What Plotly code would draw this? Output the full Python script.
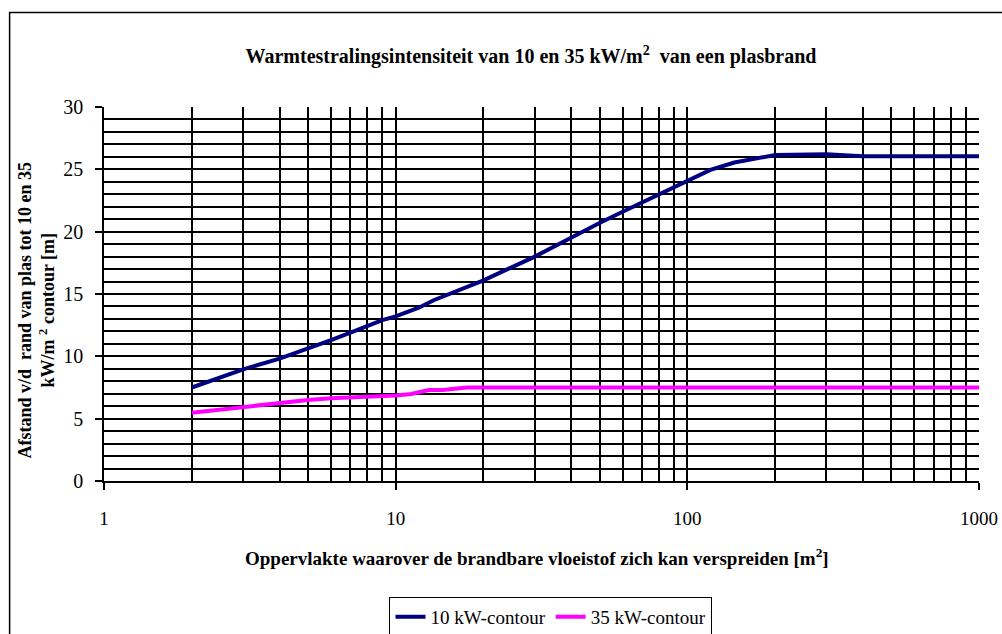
import plotly.graph_objects as go

# 10 kW/m2 contour
area_10 = [2, 3, 4, 5, 6, 7, 8, 9, 10, 12, 13.5, 15, 20, 30, 40, 50, 60, 70, 80, 90, 100, 120, 145, 200, 300, 400, 1000]
dist_10 = [7.5, 8.96, 9.82, 10.6, 11.3, 11.9, 12.45, 12.9, 13.2, 13.9, 14.5, 14.95, 16.1, 18.0, 19.55, 20.7, 21.6, 22.35, 23.0, 23.6, 24.15, 24.95, 25.55, 26.15, 26.2, 26.05, 26.05]

# 35 kW/m2 contour
area_35 = [2, 3, 4, 5, 6, 7, 8, 9, 10, 11.3, 13, 14.5, 17.5, 1000]
dist_35 = [5.48, 5.96, 6.24, 6.5, 6.63, 6.69, 6.69, 6.77, 6.85, 6.98, 7.3, 7.3, 7.5, 7.5]

series_names = ["10 kW-contour", "35 kW-contour"]
x_tick_vals = [1, 10, 100, 1000]
x_tick_text = ["1", "10", "100", "1000"]

SERIF = "Liberation Serif, Times New Roman, serif"

fig = go.Figure()
fig.add_trace(go.Scatter(x=area_10, y=dist_10, mode="lines", name=series_names[0],
                         line=dict(color="#000080", width=4)))
fig.add_trace(go.Scatter(x=area_35, y=dist_35, mode="lines", name=series_names[1],
                         line=dict(color="#FF00FF", width=4)))

W, H = 1002, 634
L, R, T, B = 103.5, 979.5, 107.3, 481.0
pw, ph = R - L, B - T

def px(x):
    return (x - L) / pw

def py(y):
    return (B - y) / ph

GRID_W = 1.5

fig.update_layout(
    width=W, height=H,
    margin=dict(l=L, r=W - R, t=T, b=H - B, pad=0, autoexpand=False),
    paper_bgcolor="white", plot_bgcolor="white",
    font=dict(family=SERIF, color="black", size=16),
    title=dict(text="<b>Warmtestralingsintensiteit van 10 en 35 kW/m<sup>2</sup>  van een plasbrand</b>",
               x=px(531), xref="paper", xanchor="center",
               y=1 - 56 / H, yref="container", yanchor="middle",
               font=dict(family=SERIF, size=20, color="black")),
    showlegend=True,
    legend=dict(orientation="h", x=px(551), xanchor="center",
                y=1 - 597 / H, yref="container", yanchor="top",
                bordercolor="black", borderwidth=1, bgcolor="white",
                font=dict(family=SERIF, size=19, color="black"),
                itemwidth=30, tracegroupgap=0),
    xaxis=dict(type="log", range=[0, 3], tickvals=x_tick_vals, ticktext=x_tick_text,
               automargin=False,
               showgrid=True, gridcolor="black", gridwidth=GRID_W,
               ticks="outside", ticklen=7, tickcolor="black", tickwidth=GRID_W,
               showline=True, linecolor="black", linewidth=GRID_W,
               ticklabelstandoff=12,
               tickfont=dict(family=SERIF, size=19, color="black"),
               minor=dict(dtick="D1", showgrid=True, gridcolor="black", gridwidth=GRID_W, ticks=""),
               zeroline=False),
    yaxis=dict(range=[0, 30], dtick=5, tick0=0,
               automargin=False,
               showgrid=True, gridcolor="black", gridwidth=GRID_W,
               ticks="outside", ticklen=7, tickcolor="black", tickwidth=GRID_W,
               showline=True, linecolor="black", linewidth=GRID_W,
               ticklabelstandoff=8,
               tickfont=dict(family=SERIF, size=20, color="black"),
               minor=dict(dtick=1, showgrid=True, gridcolor="black", gridwidth=GRID_W, ticks=""),
               zeroline=False),
)

fig.add_annotation(text="<b>Oppervlakte waarover de brandbare vloeistof zich kan verspreiden [m<sup>2</sup>]</b>",
                   xref="paper", yref="paper", x=px(537), y=py(557),
                   xanchor="center", yanchor="middle", showarrow=False,
                   font=dict(family=SERIF, size=19, color="black"))

fig.add_annotation(text="<b>Afstand v/d  rand van plas tot 10 en 35<br>kW/m <sup>2</sup> contour [m]</b>",
                   xref="paper", yref="paper", x=px(36), y=py(310),
                   xanchor="center", yanchor="middle", showarrow=False, textangle=-90,
                   font=dict(family=SERIF, size=18, color="black"))

# outer chart-area frame
fig.add_shape(type="rect", xref="paper", yref="paper",
              x0=px(9), x1=px(1012), y0=py(645), y1=py(13),
              line=dict(color="black", width=1.5), fillcolor="rgba(0,0,0,0)", layer="below")

fig.write_html("out.html", config={"displayModeBar": False},
               post_script="document.body.style.margin='0px';")
